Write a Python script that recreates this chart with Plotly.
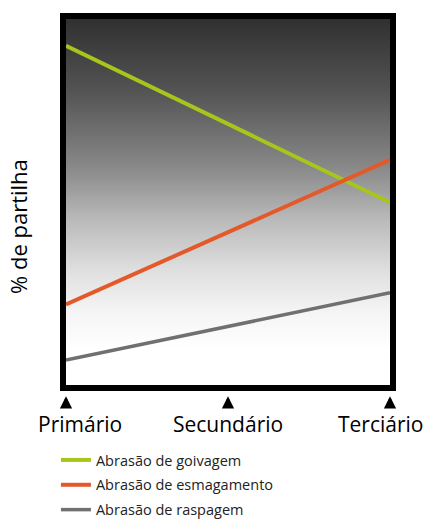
import numpy as np
import plotly.graph_objects as go

categories = ["Primário", "Secundário", "Terciário"]
x_pos = [0, 2]
goivagem = [92.7, 49.9]
esmagamento = [22.0, 61.5]
raspagem = [6.8, 25.2]
series_names = ["Abrasão de goivagem", "Abrasão de esmagamento", "Abrasão de raspagem"]
series_colors = ["#a6c61c", "#e4592a", "#707070"]

# background gradient (value per height level)
grad_y = [0, 10, 20, 32, 45, 60, 80, 100]
grad_v = [1.0, 1.0, 0.96, 0.87, 0.73, 0.53, 0.33, 0.19]

fig = go.Figure()
fig.add_trace(go.Heatmap(
    x=[0, 2], y=grad_y, z=[[v, v] for v in grad_v],
    colorscale=[[0, "#000000"], [1, "#ffffff"]], zmin=0, zmax=1,
    zsmooth="best", showscale=False, hoverinfo="skip", showlegend=False))

for name, vals, col in zip(series_names, [goivagem, esmagamento, raspagem], series_colors):
    fig.add_trace(go.Scatter(x=x_pos, y=vals, mode="lines", name=name, legendgroup=name,
                             line=dict(color=col, width=4 if col != "#707070" else 3.5)))

fig.update_xaxes(range=[0, 2], showgrid=False, zeroline=False, showticklabels=False, ticks="",
                 showline=True, linecolor="black", linewidth=6, mirror=True)
fig.update_yaxes(range=[0, 100], showgrid=False, zeroline=False, showticklabels=False, ticks="",
                 showline=True, linecolor="black", linewidth=6, mirror=True)

label_shift = [14, 0, -9]
for i, (c, s) in enumerate(zip(categories, label_shift)):
    fig.add_annotation(x=i, y=-0.031, xref="x", yref="paper", text="", showarrow=True,
                       ax=0, ay=8, arrowhead=2, arrowsize=0.7, arrowwidth=3.5, arrowcolor="black")
    fig.add_annotation(x=i, y=-0.107, xref="x", yref="paper", text=c, showarrow=False,
                       xshift=s, xanchor="center", yanchor="middle",
                       font=dict(size=21, color="black", family="Open Sans"))

fig.add_annotation(x=-0.148, y=0.432, xref="paper", yref="paper", text="% de partilha",
                   textangle=-90, showarrow=False, xanchor="center", yanchor="middle",
                   font=dict(size=22, color="black", family="Open Sans"))

fig.update_layout(
    width=426, height=526,
    margin=dict(l=66, r=36, t=19, b=141, autoexpand=False),
    paper_bgcolor="white", plot_bgcolor="white",
    font=dict(family="Open Sans", color="black"),
    legend=dict(x=-0.031, y=0, yref="container", xanchor="left", yanchor="bottom",
                tracegroupgap=3, font=dict(size=14.5, color="#222222"),
                bgcolor="rgba(0,0,0,0)"),
)

fig.write_html("out.html", config={"displayModeBar": False},
               post_script="document.body.style.margin='0';")
